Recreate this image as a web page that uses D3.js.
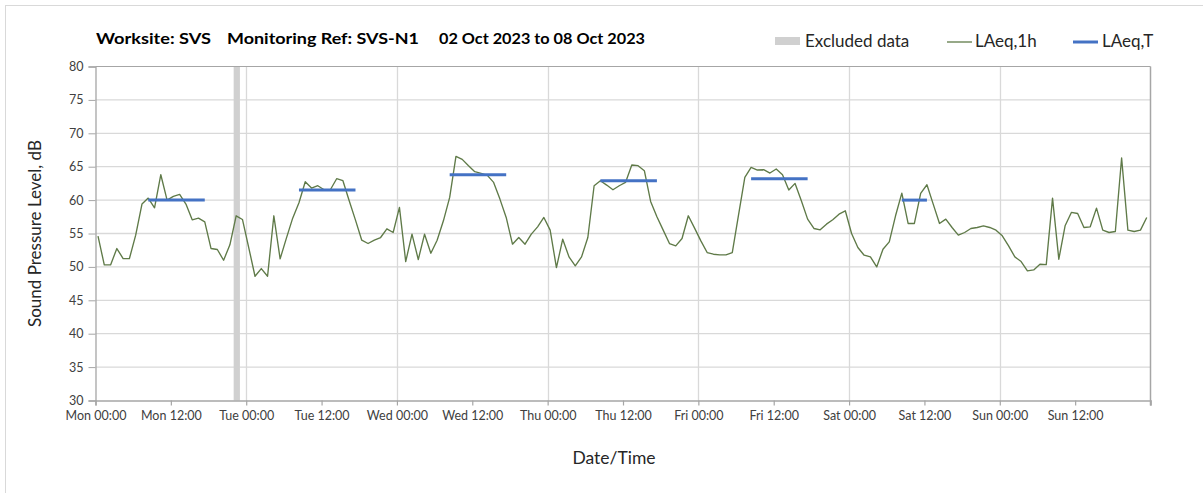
<!DOCTYPE html>
<html>
<head>
<meta charset="utf-8">
<script src="https://cdn.jsdelivr.net/npm/d3@7"></script>
<style>
  html, body { margin: 0; padding: 0; background: #fff; }
  svg { display: block; }
  text { font-family: Lato, "Open Sans", sans-serif; }
</style>
</head>
<body>
<svg id="chart" width="1203" height="493"></svg>
<script>
// ---------------- data ----------------
const titleParts = ["Worksite: SVS", "Monitoring Ref: SVS-N1", "02 Oct 2023 to 08 Oct 2023"];
const yLabel = "Sound Pressure Level, dB";
const xLabel = "Date/Time";
const legendLabels = ["Excluded data", "LAeq,1h", "LAeq,T"];

// hourly LAeq,1h values, Mon 00:00 .. Sun 23:00
const laeq1h = [
  54.6, 50.3, 50.3, 52.75, 51.25, 51.25, 54.75, 59.4, 60.3, 58.85, 63.8, 60.0,
  60.55, 60.85, 59.4, 57.05, 57.3, 56.75, 52.75, 52.6, 51.0, 53.3, 57.65, 57.1,
  52.9, 48.6, 49.75, 48.6, 57.65, 51.2, 54.3, 57.3, 59.6, 62.75, 61.8, 62.15,
  61.55, 61.55, 63.2, 62.9, 59.9, 57.0, 54.0, 53.5, 54.0, 54.4, 55.7, 55.15,
  58.9, 50.8, 54.9, 51.1, 54.9, 52.05, 54.0, 56.9, 60.4, 66.55, 66.1, 65.15,
  64.25, 64.0, 63.7, 62.65, 60.15, 57.4, 53.4, 54.4, 53.4, 54.9, 56.0, 57.4,
  55.5, 49.9, 54.15, 51.5, 50.15, 51.5, 54.4, 62.15, 62.9, 62.25, 61.55, 62.15,
  62.65, 65.25, 65.15, 64.4, 59.8, 57.5, 55.5, 53.5, 53.15, 54.25, 57.65, 55.8,
  53.9, 52.15, 51.9, 51.8, 51.8, 52.15, 57.8, 63.4, 64.9, 64.5, 64.55, 64.05,
  64.65, 63.8, 61.5, 62.5, 59.9, 57.15, 55.75, 55.55, 56.4, 57.05, 57.9, 58.4,
  55.0, 52.9, 51.75, 51.5, 50.0, 52.65, 53.75, 57.65, 61.05, 56.5, 56.5, 61.0,
  62.3, 59.4, 56.5, 57.15, 55.9, 54.75, 55.15, 55.75, 55.9, 56.15, 55.9, 55.5,
  54.65, 53.15, 51.5, 50.8, 49.4, 49.55, 50.4, 50.35, 60.3, 51.15, 56.15, 58.15,
  58.0, 55.9, 56.0, 58.8, 55.5, 55.15, 55.3, 66.3, 55.5, 55.3, 55.5, 57.4
];
const sampleOffsetHours = 0.4;   // plotting position of each hourly sample within its hour

// LAeq,T periods (hour index of first and last sample) and values
const laeqTStart = [8, 32, 56, 80, 104, 128];
const laeqTEnd   = [17, 41, 65, 89, 113, 132];
const laeqTValue = [60.0, 61.5, 63.8, 62.9, 63.2, 60.0];

// excluded data periods (hours)
const excludedStart = [22];
const excludedEnd   = [23];

// axis ticks
const xTickHours  = [0, 12, 24, 36, 48, 60, 72, 84, 96, 108, 120, 132, 144, 156, 168];
const xTickLabels = ["Mon 00:00", "Mon 12:00", "Tue 00:00", "Tue 12:00", "Wed 00:00", "Wed 12:00",
                     "Thu 00:00", "Thu 12:00", "Fri 00:00", "Fri 12:00", "Sat 00:00", "Sat 12:00",
                     "Sun 00:00", "Sun 12:00", ""];
const xGridHours  = [24, 48, 72, 96, 120, 144];
const yTicks      = [30, 35, 40, 45, 50, 55, 60, 65, 70, 75, 80];

// ---------------- layout ----------------
const svg = d3.select("#chart");
const L = 95.5, R = 1150.5, T = 66.5, B = 400.5;
const x = d3.scaleLinear().domain([0, 168]).range([L, R]);
const y = d3.scaleLinear().domain([30, 80]).range([B, T]);

const gridColor = "#d9d9d9";
const axisColor = "#a6a6a6";
const textColor = "#404040";
const greenColor = "#5f7a48";
const blueColor = "#4472c4";
const greyBar = "#d0d0d0";

// chart area border
svg.append("rect").attr("x", 5.5).attr("y", 5.5).attr("width", 1250).attr("height", 600)
  .attr("fill", "none").attr("stroke", "#d9d9d9").attr("stroke-width", 1);

// gridlines horizontal
svg.append("g").selectAll("line").data(yTicks.filter(v => v > 30 && v < 80)).join("line")
  .attr("x1", L).attr("x2", R).attr("y1", d => y(d)).attr("y2", d => y(d))
  .attr("stroke", gridColor).attr("stroke-width", 1.3);

// gridlines vertical
svg.append("g").selectAll("line").data(xGridHours).join("line")
  .attr("x1", d => Math.round(x(d)) + 0.5).attr("x2", d => Math.round(x(d)) + 0.5)
  .attr("y1", T).attr("y2", B)
  .attr("stroke", gridColor).attr("stroke-width", 1.3);

// excluded data bars
svg.append("g").selectAll("rect").data(excludedStart).join("rect")
  .attr("x", (d) => x(d))
  .attr("width", (d, i) => x(excludedEnd[i]) - x(d))
  .attr("y", T).attr("height", B - T)
  .attr("fill", greyBar);

// plot border top/right
svg.append("line").attr("x1", L).attr("x2", R).attr("y1", T).attr("y2", T)
  .attr("stroke", axisColor).attr("stroke-width", 1.2);
svg.append("line").attr("x1", R).attr("x2", R).attr("y1", T).attr("y2", B + 5)
  .attr("stroke", axisColor).attr("stroke-width", 1.5);

// y axis
const yAxis = d3.axisLeft(y).tickValues(yTicks).tickSize(7).tickPadding(4).tickFormat(d3.format("d"));
const gy = svg.append("g").attr("transform", `translate(${L},0)`).call(yAxis);
gy.select(".domain").attr("stroke", axisColor).attr("stroke-width", 1.3);
gy.selectAll(".tick line").attr("stroke", axisColor);
gy.selectAll(".tick text").attr("fill", textColor).style("font-size", "12.5px")
  .style("font-family", "Lato, sans-serif").attr("dx", "-1");

// x axis
const xAxis = d3.axisBottom(x).tickValues(xTickHours).tickSize(5).tickPadding(6)
  .tickFormat((d, i) => xTickLabels[i]);
const gx = svg.append("g").attr("transform", `translate(0,${B})`).call(xAxis);
gx.select(".domain").attr("stroke", axisColor).attr("stroke-width", 1.5);
gx.selectAll(".tick line").attr("stroke", axisColor).attr("stroke-width", 1.2);
gx.selectAll(".tick text").attr("fill", textColor).style("font-size", "12.5px")
  .style("font-family", "Lato, sans-serif");

// LAeq,1h line
const line = d3.line()
  .x((d, i) => x(i + sampleOffsetHours))
  .y(d => y(d));
svg.append("path").datum(laeq1h).attr("d", line)
  .attr("fill", "none").attr("stroke", greenColor).attr("stroke-width", 1.35)
  .attr("stroke-linejoin", "round");

// LAeq,T lines
svg.append("g").selectAll("line").data(laeqTValue).join("line")
  .attr("x1", (d, i) => x(laeqTStart[i] + sampleOffsetHours))
  .attr("x2", (d, i) => x(laeqTEnd[i] + sampleOffsetHours))
  .attr("y1", d => y(d)).attr("y2", d => y(d))
  .attr("stroke", blueColor).attr("stroke-width", 3);

// title
const titleX = [96, 227, 439];
const titleW = [115, 192, 206];
svg.append("g").selectAll("text").data(titleParts).join("text")
  .attr("x", (d, i) => titleX[i]).attr("y", 44)
  .attr("textLength", (d, i) => titleW[i]).attr("lengthAdjust", "spacingAndGlyphs")
  .attr("fill", "#000").style("font-size", "16px").style("font-weight", "bold")
  .text(d => d);

// legend
const lg = svg.append("g");
lg.append("rect").attr("x", 775).attr("y", 37).attr("width", 25).attr("height", 8).attr("fill", greyBar);
lg.append("text").attr("x", 805).attr("y", 47).attr("fill", "#262626").style("font-size", "17px").text(legendLabels[0]);
lg.append("line").attr("x1", 947).attr("x2", 972).attr("y1", 42).attr("y2", 42)
  .attr("stroke", greenColor).attr("stroke-width", 1.3);
lg.append("text").attr("x", 975).attr("y", 47).attr("fill", "#262626").style("font-size", "17px").text(legendLabels[1]);
lg.append("line").attr("x1", 1073).attr("x2", 1098).attr("y1", 42).attr("y2", 42)
  .attr("stroke", blueColor).attr("stroke-width", 3);
lg.append("text").attr("x", 1102).attr("y", 47).attr("fill", "#262626").style("font-size", "17px").text(legendLabels[2]);

// axis titles
svg.append("text").attr("x", 614).attr("y", 464).attr("text-anchor", "middle")
  .attr("fill", "#262626").style("font-size", "17.5px").text(xLabel);
svg.append("text").attr("transform", `translate(41,${(T + B) / 2}) rotate(-90)`)
  .attr("text-anchor", "middle").attr("fill", "#262626").style("font-size", "17px").text(yLabel);
</script>
</body>
</html>
